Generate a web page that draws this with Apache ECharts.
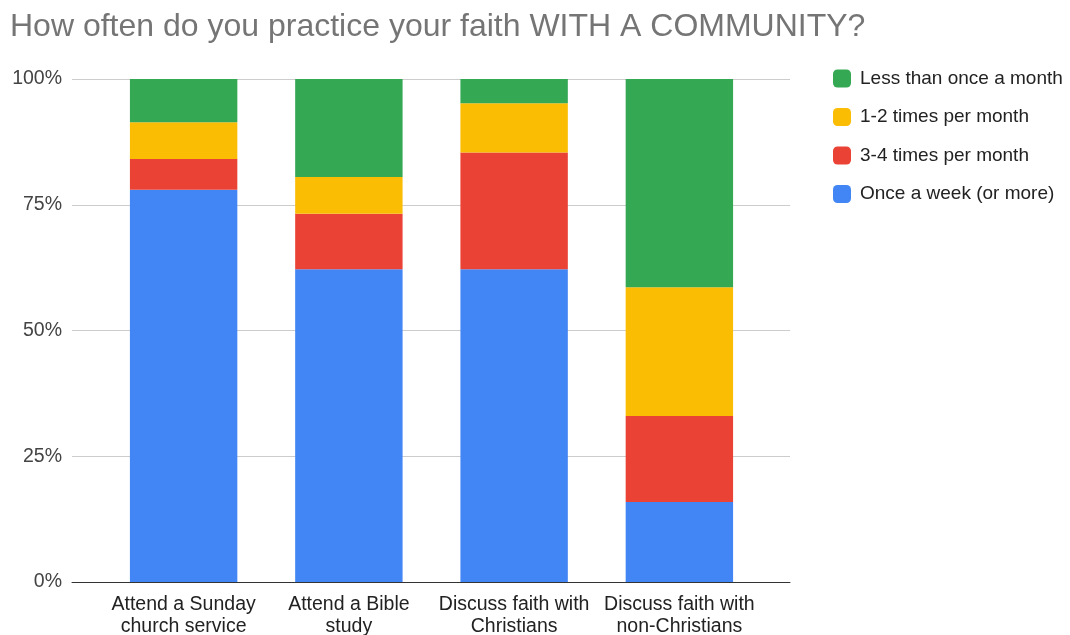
<!DOCTYPE html>
<html>
<head>
<meta charset="utf-8">
<script src="https://cdn.jsdelivr.net/npm/echarts@6/dist/echarts.min.js"></script>
<style>
  html, body { margin: 0; padding: 0; background: #fff; }
  #chart { width: 1070px; height: 635px; }
</style>
</head>
<body>
<div id="chart"></div>
<script>
// Survey answers, share of respondents (%) per activity
const categories = [
  'Attend a Sunday\nchurch service',
  'Attend a Bible\nstudy',
  'Discuss faith with\nChristians',
  'Discuss faith with\nnon-Christians'
];
const onceAWeek = [78.0, 62.2, 62.2, 15.9];
const threeFourPerMonth = [6.1, 11.0, 23.2, 17.1];
const oneTwoPerMonth = [7.3, 7.3, 9.8, 25.6];
const lessThanMonthly = [8.6, 19.5, 4.8, 41.4];
const yTicks = [0, 25, 50, 75, 100];

const FONT = '"Liberation Sans", Arial, sans-serif';
const chart = echarts.init(document.getElementById('chart'));

const gridTop = 79, gridBottom = 53;

function seriesOf(name, values, color) {
  return {
    name: name,
    type: 'bar',
    stack: 'total',
    xAxisIndex: 1,
    yAxisIndex: 1,
    barCategoryGap: '35%',
    data: values,
    itemStyle: { color: color },
    emphasis: { disabled: true }
  };
}

chart.setOption({
  animation: false,
  title: {
    text: 'How often do you practice your faith WITH A COMMUNITY?',
    left: 5,
    top: 6,
    textStyle: { fontFamily: FONT, fontSize: 32, fontWeight: 'normal', color: '#757575' }
  },
  legend: {
    orient: 'vertical',
    left: 828,
    top: 64,
    itemWidth: 18,
    itemHeight: 18,
    itemGap: 19.5,
    icon: 'roundRect',
    data: ['Less than once a month', '1-2 times per month', '3-4 times per month', 'Once a week (or more)'],
    textStyle: { fontFamily: FONT, fontSize: 19, color: '#222', padding: [0, 0, 0, 4] }
  },
  grid: [
    // full-width frame carrying gridlines, y labels and the baseline
    { left: 72, right: 280, top: gridTop, bottom: gridBottom, outerBoundsMode: 'none' },
    // inner band where the bars sit
    { left: 101, right: 308, top: gridTop, bottom: gridBottom, outerBoundsMode: 'none' }
  ],
  xAxis: [
    {
      gridIndex: 0, type: 'value', min: 0, max: 1,
      axisLine: { show: true, onZero: false, lineStyle: { color: '#333', width: 1 } },
      axisTick: { show: false }, axisLabel: { show: false }, splitLine: { show: false }
    },
    {
      gridIndex: 1, type: 'category', data: categories,
      axisLine: { show: false }, axisTick: { show: false },
      axisLabel: {
        interval: 0, margin: 12, fontFamily: FONT, fontSize: 19.5, color: '#222', lineHeight: 22
      }
    }
  ],
  yAxis: [
    {
      gridIndex: 0, type: 'value', min: 0, max: 100, interval: 25,
      axisLine: { show: false }, axisTick: { show: false },
      axisLabel: {
        margin: 10, fontFamily: FONT, fontSize: 19.5, color: '#444',
        formatter: v => (yTicks.includes(v) ? v + '%' : '')
      },
      splitLine: { lineStyle: { color: '#cccccc', width: 1 } }
    },
    {
      gridIndex: 1, type: 'value', min: 0, max: 100, interval: 25,
      axisLine: { show: false }, axisTick: { show: false },
      axisLabel: { show: false }, splitLine: { show: false }
    }
  ],
  series: [
    seriesOf('Once a week (or more)', onceAWeek, '#4285F4'),
    seriesOf('3-4 times per month', threeFourPerMonth, '#EA4335'),
    seriesOf('1-2 times per month', oneTwoPerMonth, '#FBBC04'),
    seriesOf('Less than once a month', lessThanMonthly, '#34A853')
  ]
});
</script>
</body>
</html>
